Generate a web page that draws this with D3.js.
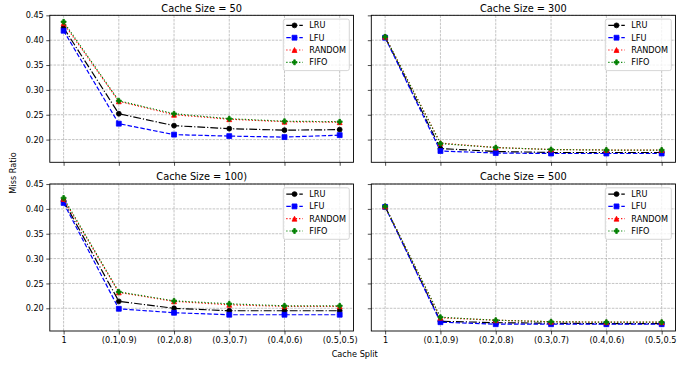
<!DOCTYPE html>
<html>
<head>
<meta charset="utf-8">
<script src="https://cdn.jsdelivr.net/npm/d3@7"></script>
<style>
  html, body { margin: 0; padding: 0; background: #fff; }
  svg { display: block; }
  text { font-family: "DejaVu Sans", sans-serif; fill: #000; }
</style>
</head>
<body>
<svg id="chart" width="677" height="366"></svg>
<script>
// ---------------- data ----------------
const categories = ["1", "(0.1,0.9)", "(0.2,0.8)", "(0.3,0.7)", "(0.4,0.6)", "(0.5,0.5)"];
const yTicks = [0.20, 0.25, 0.30, 0.35, 0.40, 0.45];
const seriesNames = ["LRU", "LFU", "RANDOM", "FIFO"];
const panelTitles = ["Cache Size = 50", "Cache Size = 300", "Cache Size = 100)", "Cache Size = 500"];

const cache50_LRU    = [0.425, 0.252, 0.228, 0.222, 0.219, 0.220];
const cache50_LFU    = [0.419, 0.232, 0.210, 0.207, 0.205, 0.209];
const cache50_RANDOM = [0.434, 0.277, 0.250, 0.241, 0.236, 0.235];
const cache50_FIFO   = [0.437, 0.278, 0.252, 0.242, 0.237, 0.236];

const cache300_LRU    = [0.406, 0.182, 0.176, 0.174, 0.174, 0.174];
const cache300_LFU    = [0.405, 0.177, 0.173, 0.172, 0.172, 0.172];
const cache300_RANDOM = [0.407, 0.193, 0.184, 0.180, 0.179, 0.179];
const cache300_FIFO   = [0.407, 0.192, 0.184, 0.180, 0.179, 0.179];

const cache100_LRU    = [0.416, 0.214, 0.200, 0.195, 0.195, 0.195];
const cache100_LFU    = [0.412, 0.199, 0.191, 0.187, 0.187, 0.187];
const cache100_RANDOM = [0.420, 0.232, 0.214, 0.207, 0.204, 0.204];
const cache100_FIFO   = [0.422, 0.233, 0.215, 0.209, 0.205, 0.205];

const cache500_LRU    = [0.405, 0.174, 0.171, 0.170, 0.169, 0.169];
const cache500_LFU    = [0.404, 0.172, 0.168, 0.168, 0.168, 0.168];
const cache500_RANDOM = [0.405, 0.181, 0.176, 0.173, 0.172, 0.172];
const cache500_FIFO   = [0.405, 0.182, 0.176, 0.173, 0.172, 0.172];

const panelData = [
  [cache50_LRU, cache50_LFU, cache50_RANDOM, cache50_FIFO],
  [cache300_LRU, cache300_LFU, cache300_RANDOM, cache300_FIFO],
  [cache100_LRU, cache100_LFU, cache100_RANDOM, cache100_FIFO],
  [cache500_LRU, cache500_LFU, cache500_RANDOM, cache500_FIFO]
];

// ---------------- styles ----------------
const styles = [
  { color: "#000000", dash: "7.8,2,1.2,2", marker: "circle" },
  { color: "#0000ff", dash: "4.5,2", marker: "square" },
  { color: "#ff0000", dash: "1.2,2", marker: "triangle" },
  { color: "#008000", dash: "1.2,2", marker: "plus" }
];

const svg = d3.select("#chart");

const colX = [[49.8, 353.5], [371.3, 675.5]];
const rowY = [[15.3, 162.3], [184.0, 331.0]];
const yDomain = [0.1543, 0.4501];
const xDomain = [-0.25, 5.25];
const FS = 8.17;
const MS = 4.9; // marker size

function markerPath(type, s) {
  const h = s / 2;
  if (type === "circle") {
    const p = d3.path(); p.arc(0, 0, h, 0, 2 * Math.PI); p.closePath(); return p.toString();
  }
  if (type === "square") return `M${-h},${-h}L${h},${-h}L${h},${h}L${-h},${h}Z`;
  if (type === "triangle") return `M0,${-h}L${h},${h}L${-h},${h}Z`;
  if (type === "plus") {
    const a = s / 6, b = s / 2;
    return `M${-a},${-b}L${a},${-b}L${a},${-a}L${b},${-a}L${b},${a}L${a},${a}L${a},${b}L${-a},${b}L${-a},${a}L${-b},${a}L${-b},${-a}L${-a},${-a}Z`;
  }
}

panelData.forEach((series, pi) => {
  const col = pi % 2, row = Math.floor(pi / 2);
  const [x0, x1] = colX[col];
  const [y0, y1] = rowY[row];
  const x = d3.scaleLinear().domain(xDomain).range([x0, x1]);
  const y = d3.scaleLinear().domain(yDomain).range([y1, y0]);
  const g = svg.append("g");

  // grid
  const grid = g.append("g").attr("stroke", "#b0b0b0").attr("stroke-width", 0.75)
    .attr("stroke-dasharray", "2.6,1.1");
  categories.forEach((c, i) => {
    grid.append("line").attr("x1", x(i)).attr("x2", x(i)).attr("y1", y0).attr("y2", y1);
  });
  yTicks.forEach(t => {
    grid.append("line").attr("x1", x0).attr("x2", x1).attr("y1", y(t)).attr("y2", y(t));
  });

  // axes
  const xAxis = d3.axisBottom(x).tickValues(d3.range(categories.length))
    .tickSize(3.5).tickPadding(2.5)
    .tickFormat(row === 1 ? (i => categories[i]) : (() => ""));
  const gx = g.append("g").attr("transform", `translate(0,${y1})`).call(xAxis);
  const yAxis = d3.axisLeft(y).tickValues(yTicks).tickSize(3.5).tickPadding(2.5)
    .tickFormat(col === 0 ? d3.format(".2f") : (() => ""));
  const gy = g.append("g").attr("transform", `translate(${x0},0)`).call(yAxis);
  [gx, gy].forEach(a => {
    a.select(".domain").remove();
    a.selectAll(".tick line").attr("stroke", "#000").attr("stroke-width", 0.7);
    a.selectAll(".tick text").attr("font-size", FS).attr("font-family", "DejaVu Sans").attr("fill", "#000");
  });

  // lines
  const line = d3.line().x((d, i) => x(i)).y(d => y(d));
  series.forEach((vals, si) => {
    const st = styles[si];
    g.append("path").datum(vals).attr("d", line).attr("fill", "none")
      .attr("stroke", st.color).attr("stroke-width", 1.2).attr("stroke-dasharray", st.dash);
    g.append("g").selectAll("path").data(vals).join("path")
      .attr("d", markerPath(st.marker, MS))
      .attr("transform", (d, i) => `translate(${x(i)},${y(d)})`)
      .attr("fill", st.color).attr("stroke", st.color).attr("stroke-width", 0.8);
  });

  // spines
  g.append("rect").attr("x", x0).attr("y", y0).attr("width", x1 - x0).attr("height", y1 - y0)
    .attr("fill", "none").attr("stroke", "#000").attr("stroke-width", 0.9);

  // title
  g.append("text").attr("x", (x0 + x1) / 2).attr("y", y0 - 3.6).attr("text-anchor", "middle")
    .attr("font-size", 9.8).text(panelTitles[pi]);

  // legend
  const lw = 66, lh = 51.5;
  const lx = x1 - 4.2 - lw, ly = y0 + 3.8;
  const lg = g.append("g");
  lg.append("rect").attr("x", lx).attr("y", ly).attr("width", lw).attr("height", lh)
    .attr("rx", 2).attr("fill", "#fff").attr("fill-opacity", 0.8)
    .attr("stroke", "#cccccc").attr("stroke-width", 0.8);
  seriesNames.forEach((nm, si) => {
    const st = styles[si];
    const cy = ly + 6.3 + si * 12.3;
    lg.append("line").attr("x1", lx + 3).attr("x2", lx + 19.5).attr("y1", cy).attr("y2", cy)
      .attr("stroke", st.color).attr("stroke-width", 1.2).attr("stroke-dasharray", st.dash);
    lg.append("path").attr("d", markerPath(st.marker, MS))
      .attr("transform", `translate(${lx + 11.2},${cy})`)
      .attr("fill", st.color).attr("stroke", st.color).attr("stroke-width", 0.8);
    lg.append("text").attr("x", lx + 26).attr("y", cy + 3).attr("font-size", FS).text(nm);
  });
});

// axis labels
svg.append("text").attr("x", 354.7).attr("y", 357).attr("text-anchor", "middle")
  .attr("font-size", FS).text("Cache Split");
svg.append("text").attr("transform", "translate(15.5,173) rotate(-90)").attr("text-anchor", "middle")
  .attr("font-size", FS).text("Miss Ratio");
</script>
</body>
</html>
